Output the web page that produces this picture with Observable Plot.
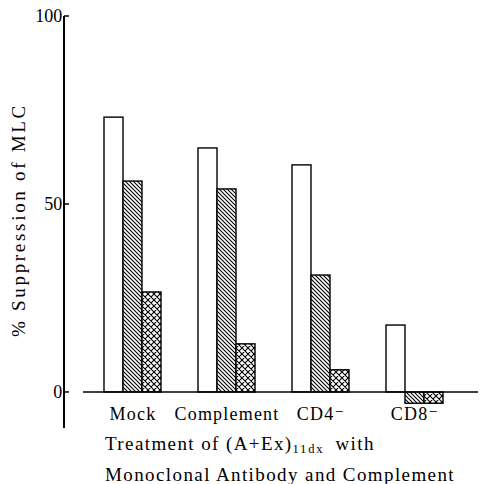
<!DOCTYPE html>
<html>
<head>
<meta charset="utf-8">
<script src="https://cdn.jsdelivr.net/npm/d3@7"></script>
<script src="https://cdn.jsdelivr.net/npm/@observablehq/plot@0.6"></script>
<style>
  body { margin: 0; background: #fff; }
  #chart { width: 482px; height: 484px; position: relative; font-family: "Liberation Serif", "DejaVu Serif", serif; overflow: hidden; }
  svg [aria-label="fx-axis tick label"] text { letter-spacing: 1.2px; }
  #xtitle { position: absolute; left: 105px; top: 431px; font-size: 19px; line-height: 26px; letter-spacing: 1.4px; color: #000; white-space: nowrap; }
  #xtitle .sub { font-size: 12.5px; vertical-align: -3px; letter-spacing: 1.8px; }
  #xtitle .gap { margin-left: 5px; }
</style>
</head>
<body>
<div id="chart"></div>
<script>
// ---- data ----
const treatments = ["Mock", "Complement", "CD4-", "CD8-"];
const treatmentLabels = ["Mock", "Complement", "CD4\u207B", "CD8\u207B"];
const series = ["open", "hatched", "crosshatched"];
const openValues = [73.1, 64.9, 60.4, 17.8];
const hatchedValues = [56.1, 54.0, 31.1, -3.0];
const crossValues = [26.6, 12.8, 5.9, -3.0];
const yTicks = [0, 50, 100];
const yAxisBottom = -9.6;
const yLabel = "% Suppression of MLC";

const valuesBySeries = { open: openValues, hatched: hatchedValues, crosshatched: crossValues };
const fills = { open: "white", hatched: "url(#hatch)", crosshatched: "url(#cross)" };
const data = [];
treatments.forEach((t, i) => series.forEach(s => data.push({ treatment: t, series: s, value: valuesBySeries[s][i] })));

const W = 482, H = 432, ML = 64;
const PI = 0.397, PO = 0.403;
// the y axis is anchored to the first facet; offset it back to the frame's left edge
const fxScale = d3.scaleBand().domain(treatments).range([ML, W]).paddingInner(PI).paddingOuter(PO);
const facetOffset = fxScale(treatments[0]) - ML;

const plot = Plot.plot({
  width: W,
  height: H,
  marginLeft: ML,
  marginRight: 0,
  marginTop: 16,
  marginBottom: 25,
  style: { fontFamily: "Liberation Serif, DejaVu Serif, serif", fontSize: "18px", background: "white", overflow: "visible" },
  fx: { domain: treatments, paddingInner: PI, paddingOuter: PO, label: null },
  x: { domain: series, padding: 0, axis: null },
  y: { domain: [-4, 100], label: null },
  marks: [
    Plot.barY(data, {
      fx: "treatment", x: "series", y: "value",
      fill: d => fills[d.series], stroke: "black", strokeWidth: 1.4
    }),
    Plot.axisY({ ticks: yTicks, tickSize: 0, tickPadding: 4 + facetOffset, label: null }),
    Plot.axisFx({ anchor: "bottom", tickSize: 0, tickPadding: 0, label: null, tickFormat: d => treatmentLabels[treatments.indexOf(d)] })
  ]
});

// pattern definitions
const svg = d3.select(plot);
const defs = svg.insert("defs", ":first-child");
const ph = defs.append("pattern").attr("id", "hatch").attr("patternUnits", "userSpaceOnUse").attr("width", 4).attr("height", 4);
ph.append("rect").attr("width", 4).attr("height", 4).attr("fill", "white");
ph.append("path").attr("d", "M0,0L4,4M-1,3L1,5M3,-1L5,1").attr("stroke", "black").attr("stroke-width", 1.1);
const pc = defs.append("pattern").attr("id", "cross").attr("patternUnits", "userSpaceOnUse").attr("width", 6).attr("height", 6);
pc.append("rect").attr("width", 6).attr("height", 6).attr("fill", "white");
pc.append("path").attr("d", "M0,0L6,6M-1,5L1,7M5,-1L7,1M0,6L6,0M-1,1L1,-1M5,7L7,5").attr("stroke", "black").attr("stroke-width", 1.1);

// axis line, inward ticks and zero baseline via the plot's own y scale
const y = plot.scale("y");
const g = svg.append("g").attr("stroke", "black").attr("fill", "none");
g.append("line").attr("x1", ML).attr("x2", ML).attr("y1", y.apply(100)).attr("y2", y.apply(yAxisBottom)).attr("stroke-width", 2);
yTicks.forEach(t => g.append("line").attr("x1", ML).attr("x2", ML + 5).attr("y1", y.apply(t)).attr("y2", y.apply(t)).attr("stroke-width", 1.5));
g.append("line").attr("x1", 83).attr("x2", 478).attr("y1", y.apply(0)).attr("y2", y.apply(0)).attr("stroke-width", 1.4);

// y axis title, centred on the drawn axis line
const yMid = (y.apply(100) + y.apply(yAxisBottom)) / 2;
svg.append("text")
  .attr("transform", `translate(25,${yMid - 2}) rotate(-90)`)
  .attr("text-anchor", "middle")
  .attr("fill", "black")
  .style("font-size", "19px")
  .style("letter-spacing", "2.7px")
  .text(yLabel);

const chart = document.getElementById("chart");
chart.appendChild(plot);
const title = document.createElement("div");
title.id = "xtitle";
title.innerHTML = 'Treatment of (A+Ex)<span class="sub">11dx</span><span class="gap"></span> with<br>Monoclonal Antibody and Complement';
chart.appendChild(title);
</script>
</body>
</html>
